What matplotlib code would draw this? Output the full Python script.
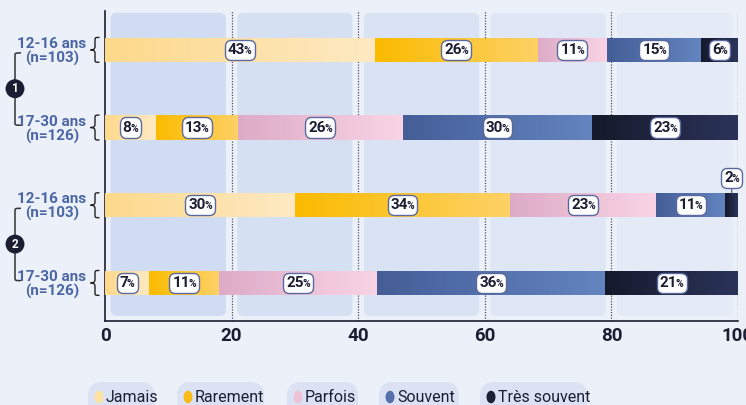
import numpy as np
import matplotlib
matplotlib.use("Agg")
import matplotlib.pyplot as plt
from matplotlib.patches import FancyBboxPatch, Ellipse, PathPatch
from matplotlib.path import Path
from matplotlib.colors import LinearSegmentedColormap
from matplotlib.offsetbox import TextArea, HPacker, AnnotationBbox
import matplotlib.transforms as mtransforms

plt.rcParams['font.family'] = ['Roboto', 'DejaVu Sans']

# ---------------- data ----------------
categories = ["Jamais", "Rarement", "Parfois", "Souvent", "Très souvent"]
row_labels = ["12-16 ans\n(n=103)", "17-30 ans\n(n=126)", "12-16 ans\n(n=103)", "17-30 ans\n(n=126)"]
groups = ["1", "2"]
jamais = [42.6, 8.0, 30.0, 7.0]
rarement = [25.8, 13.0, 34.0, 11.0]
parfois = [10.9, 26.0, 23.0, 25.0]
souvent = [14.9, 30.0, 11.0, 36.0]
tres_souvent = [5.8, 23.0, 2.0, 21.0]
series = [jamais, rarement, parfois, souvent, tres_souvent]
xticks = [0, 20, 40, 60, 80, 100]

# ---------------- style ----------------
grad = [("#fdd98b", "#fee9c2"), ("#fbbb00", "#fed166"), ("#ddabc6", "#f9d4e5"),
        ("#455e98", "#6384bf"), ("#151a2b", "#2b335a")]
legend_colors = ["#fde2a2", "#fbb91a", "#efc1d7", "#5570ab", "#1b2036"]
bg = "#ecf0f9"
band_colors = ["#cfdcf1", "#d5e0f2", "#dae3f3", "#dfe6f5", "#e4eaf6"]
navy = "#1b1e33"
label_blue = "#4a66a5"

W, H = 746, 405
fig = plt.figure(figsize=(W / 100, H / 100), dpi=100, facecolor=bg)
ax_left, ax_right, ax_top, ax_bottom = 105, 738, 11, 321
ax = fig.add_axes([ax_left / W, 1 - ax_bottom / H, (ax_right - ax_left) / W, (ax_bottom - ax_top) / H])
ax.set_facecolor(bg)
ax.set_xlim(0, 100)
ax.set_ylim(3.49, -0.50)

ppx = (ax_right - ax_left) / 100.0
ppy = (ax_bottom - ax_top) / 3.99

# background bands
for i in range(5):
    x0 = xticks[i] + 0.9
    x1 = xticks[i + 1] - 0.9
    y0, y1 = -0.476, 3.425
    rs = 6 / ppx
    band = FancyBboxPatch((x0, y0), x1 - x0, y1 - y0,
                          boxstyle=f"round,pad=0,rounding_size={rs}",
                          mutation_aspect=ppx / ppy, fc=band_colors[i], ec="none", zorder=0)
    ax.add_patch(band)

for xv in xticks[1:]:
    ax.axvline(xv, color="#4a4f5c", lw=0.9, ls=(0, (1, 1.2)), zorder=1)

ypos = np.arange(len(row_labels))
bar_h = 0.31
left = np.zeros(len(row_labels))
for k, vals in enumerate(series):
    vals = np.array(vals)
    bars = ax.barh(ypos, vals, left=left, height=bar_h, color=grad[k][0], edgecolor="none", zorder=2)
    cmap = LinearSegmentedColormap.from_list(f"g{k}", [grad[k][0], grad[k][1]])
    for j, b in enumerate(bars):
        x0, x1 = left[j], left[j] + vals[j]
        im = ax.imshow(np.linspace(0, 1, 64)[None, :], cmap=cmap, aspect="auto",
                       extent=(x0, x1, ypos[j] + bar_h / 2, ypos[j] - bar_h / 2),
                       zorder=3, interpolation="bilinear")
        im.set_clip_path(b)
    left = left + vals

ax.set_xlim(0, 100)
ax.set_ylim(3.49, -0.50)

# value labels
def add_label(val, x, y, box_xy=None):
    t1 = TextArea(f"{int(round(val))}", textprops=dict(fontsize=11, fontweight="bold", color=navy))
    t2 = TextArea("%", textprops=dict(fontsize=7.5, fontweight="bold", color=navy))
    pk = HPacker(children=[t1, t2], align="baseline", pad=0, sep=-1)
    kw = {}
    if box_xy is not None:
        kw = dict(xybox=box_xy, boxcoords="data",
                  arrowprops=dict(arrowstyle="-", color="#5a6a9e", lw=0.9, shrinkA=0, shrinkB=0))
    ab = AnnotationBbox(pk, (x, y), xycoords="data", frameon=True, pad=0.14,
                        bboxprops=dict(boxstyle="round,pad=0.22,rounding_size=0.45", fc="white",
                                       ec="#5a6a9e", lw=1.0), zorder=5, **kw)
    ax.add_artist(ab)

left = np.zeros(len(row_labels))
for k, vals in enumerate(series):
    for j, v in enumerate(vals):
        xc = left[j] + v / 2
        if v < 4:
            add_label(v, xc, ypos[j] - bar_h / 2, box_xy=(xc, ypos[j] - 0.35))
        else:
            add_label(v, xc, ypos[j])
    left = left + np.array(vals)

# axes styling
for s in ["top", "right"]:
    ax.spines[s].set_visible(False)
ax.spines["left"].set_color(navy)
ax.spines["bottom"].set_color(navy)
ax.spines["left"].set_linewidth(1.2)
ax.spines["bottom"].set_linewidth(1.2)
ax.set_xticks(xticks)
ax.set_xticklabels([str(v) for v in xticks], fontsize=13.5, fontweight="bold", color=navy)
ax.tick_params(axis="x", length=0, pad=4)
ax.set_yticks(ypos)
ax.set_yticklabels(row_labels, fontsize=11, fontweight="semibold", color=label_blue,
                   linespacing=1.0)
for tl in ax.get_yticklabels():
    tl.set_multialignment("center")
    tl.set_horizontalalignment("center")
ax.tick_params(axis="y", length=0, pad=(ax_left - 52) * 0.72)

# braces
ytr = ax.get_yaxis_transform()
def fx(px):
    return (px - ax_left) / (ax_right - ax_left)
for j in ypos:
    yt, yb, ym = j - 0.16, j + 0.16, j
    xr, xc, xl = fx(99.5), fx(95), fx(90.5)
    d = 0.045
    verts = [(xr, yt), (xc, yt), (xc, yt), (xc, yt + d),
             (xc, ym - d),
             (xc, ym - 0.01), (fx(93.5), ym), (xl, ym),
             (fx(93.5), ym), (xc, ym + 0.01), (xc, ym + d),
             (xc, yb - d),
             (xc, yb), (xc, yb), (xr, yb)]
    codes = [Path.MOVETO, Path.CURVE4, Path.CURVE4, Path.CURVE4,
             Path.LINETO,
             Path.CURVE4, Path.CURVE4, Path.CURVE4,
             Path.CURVE4, Path.CURVE4, Path.CURVE4,
             Path.LINETO,
             Path.CURVE4, Path.CURVE4, Path.CURVE4]
    ax.add_patch(PathPatch(Path(verts, codes), fc="none", ec="#222", lw=1.0,
                           transform=ytr, clip_on=False))

# group brackets
for g, name in enumerate(groups):
    y0, y1 = ypos[2 * g] + 0.04, ypos[2 * g + 1] - 0.03
    xb, xh = fx(15), fx(21)
    r = 0.04
    verts = [(xh, y0), (xb, y0), (xb, y0), (xb, y0 + r), (xb, y1 - r), (xb, y1), (xb, y1), (xh, y1)]
    codes = [Path.MOVETO, Path.CURVE4, Path.CURVE4, Path.CURVE4, Path.LINETO,
             Path.CURVE4, Path.CURVE4, Path.CURVE4]
    ax.add_patch(PathPatch(Path(verts, codes), fc="none", ec="#333", lw=1.1,
                           transform=ytr, clip_on=False))
    ymid = (ypos[2 * g] + ypos[2 * g + 1]) / 2
    ax.annotate(name, xy=(xb, ymid), xycoords=ytr, ha="center", va="center",
                fontsize=8.5, fontweight="bold", color="white", annotation_clip=False,
                bbox=dict(boxstyle="circle,pad=0.25", fc=navy, ec="none"))

# legend (manual pills)
pxT = mtransforms.Affine2D().scale(1, -1).translate(0, H).scale(1 / W, 1 / H) + fig.transFigure
pills = [(88, 155), (177, 264), (287, 358), (379, 459), (480, 587)]
for (p0, p1), name, col in zip(pills, categories, legend_colors):
    fig.patches.append(FancyBboxPatch((p0, 382), p1 - p0, 36,
                                      boxstyle="round,pad=0,rounding_size=14",
                                      fc="#dae2f3", ec="none", transform=pxT, figure=fig))
    fig.patches.append(Ellipse((p0 + 11, 397), 9, 12.5, fc=col, ec="none", transform=pxT, figure=fig))
    fig.text((p0 + 18) / W, 1 - 397 / H, name, fontsize=11.5, color=navy, va="center", ha="left")

fig.savefig("out.png", dpi=100, facecolor=bg)
